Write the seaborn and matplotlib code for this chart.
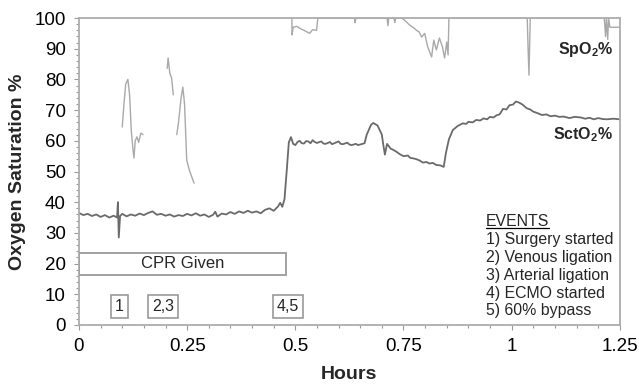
import numpy as np
import pandas as pd
import matplotlib
matplotlib.use("Agg")
import matplotlib.pyplot as plt
import seaborn as sns
from matplotlib.patches import Rectangle

# ---------------- data ----------------
sct_t = [0.00, 0.01, 0.02, 0.03, 0.04, 0.05, 0.06, 0.07, 0.08, 0.088, 0.09, 0.092, 0.095,
         0.10, 0.11, 0.12, 0.13, 0.14, 0.15, 0.16, 0.17, 0.18, 0.19, 0.20, 0.21, 0.22, 0.23,
         0.24, 0.25, 0.26, 0.27, 0.28, 0.29, 0.30, 0.31, 0.315, 0.32, 0.33, 0.34, 0.35, 0.36,
         0.37, 0.38, 0.39, 0.40, 0.41, 0.42, 0.43, 0.44, 0.45, 0.46, 0.465, 0.47, 0.475, 0.48,
         0.485, 0.49, 0.495, 0.50, 0.505, 0.51, 0.515, 0.52, 0.525, 0.53, 0.535, 0.54, 0.545,
         0.55, 0.56, 0.565, 0.57, 0.58, 0.585, 0.59, 0.60, 0.605, 0.61, 0.62, 0.625, 0.63,
         0.64, 0.645, 0.65, 0.66, 0.665, 0.675, 0.68, 0.69, 0.695, 0.70, 0.703,
         0.707, 0.712, 0.72, 0.727, 0.734, 0.742, 0.75, 0.76, 0.766, 0.772, 0.78, 0.787,
         0.795, 0.803, 0.81, 0.818, 0.826, 0.835, 0.843,
         0.848, 0.855, 0.864, 0.875, 0.887, 0.895, 0.90, 0.91, 0.918, 0.927, 0.935, 0.943,
         0.95, 0.958, 0.965, 0.972, 0.98, 0.988, 0.995,
         1.003, 1.01, 1.018, 1.025, 1.035, 1.043, 1.05, 1.06, 1.07, 1.08, 1.09, 1.10, 1.11,
         1.12, 1.134, 1.145, 1.16, 1.17, 1.18, 1.19, 1.20, 1.21, 1.22, 1.235, 1.25]
sct_v = [36.5, 35.8, 36.2, 35.5, 36.0, 35.2, 35.8, 35.0, 35.6, 35.0, 40.0, 28.5, 35.5,
         36.2, 35.4, 36.0, 35.6, 36.3, 35.8, 36.5, 37.0, 35.9, 36.2, 35.6, 36.0, 35.3, 35.8,
         35.5, 36.2, 35.7, 36.4, 35.6, 36.0, 35.2, 35.9, 36.9, 35.3, 36.3, 36.0, 36.8, 36.2,
         37.0, 36.5, 37.2, 36.6, 37.0, 36.4, 37.5, 38.0, 37.2, 38.6, 39.8, 38.5, 41.0, 50.0,
         59.5, 61.2, 59.0, 58.6, 59.6, 60.0, 59.2, 59.1, 59.9, 59.8, 59.2, 60.2, 59.6,
         59.3, 59.8, 59.1, 59.0, 59.6, 58.9, 59.2, 59.8, 59.0, 58.9, 59.4, 58.8, 58.6,
         59.0, 58.6, 58.8, 59.2, 62.0, 65.2, 65.8, 65.0, 63.5, 62.0, 59.0,
         55.5, 59.0, 57.5, 57.0, 56.4, 55.6, 55.0, 55.2, 54.4, 54.3, 54.0, 53.6,
         52.9, 53.1, 52.6, 52.8, 52.1, 52.0, 51.5,
         56.0, 60.5, 63.5, 64.8, 65.7, 65.5, 66.2, 66.0, 66.8, 66.6, 67.3, 67.0,
         67.8, 67.6, 68.3, 68.6, 70.4, 70.2, 71.6,
         71.8, 72.8, 72.4, 71.8, 70.6, 70.2, 69.5, 69.0, 68.4, 68.6, 68.0, 68.2, 67.8,
         67.9, 67.4, 67.8, 67.6, 67.2, 67.5, 67.0, 67.4, 67.1, 67.0, 67.2, 67.0]

# SpO2 recorded in separate segments (gaps where the signal was lost)
spo_seg1_t = [0.100, 0.104, 0.108, 0.113, 0.117, 0.121, 0.125, 0.127, 0.130, 0.134, 0.138, 0.143, 0.148]
spo_seg1_v = [64.5, 72.0, 78.5, 80.0, 75.0, 63.0, 57.0, 54.4, 60.0, 61.3, 59.5, 62.5, 62.0]
spo_seg2_t = [0.204, 0.206, 0.210, 0.214, 0.218]
spo_seg2_v = [83.6, 87.0, 82.0, 80.5, 75.0]
spo_seg3_t = [0.226, 0.230, 0.236, 0.240, 0.244, 0.249, 0.255, 0.260, 0.266]
spo_seg3_v = [62.0, 66.0, 74.0, 77.5, 72.0, 53.7, 50.5, 48.5, 46.2]
spo_seg4_t = [0.492, 0.4925, 0.495, 0.503, 0.512, 0.520, 0.528, 0.533, 0.540, 0.549, 0.552,
              0.600, 0.637, 0.638, 0.640, 0.712, 0.714, 0.716, 0.728, 0.730, 0.732, 0.746,
              0.755, 0.764, 0.772, 0.780, 0.786, 0.792, 0.799, 0.806, 0.815, 0.820, 0.826,
              0.833, 0.840, 0.845, 0.850, 0.853, 0.855, 0.900, 1.036, 1.038, 1.040, 1.043,
              1.100, 1.214, 1.217, 1.219, 1.222, 1.224, 1.227, 1.25]
spo_seg4_v = [100.0, 94.5, 97.0, 97.3, 96.5, 96.0, 95.4, 95.0, 96.2, 96.0, 100.0,
              100.0, 100.0, 98.5, 100.0, 100.0, 97.5, 100.0, 100.0, 98.5, 100.0, 100.0,
              99.0, 97.7, 97.0, 96.0, 95.5, 93.8, 95.0, 90.6, 87.3, 92.8, 89.6,
              93.5, 90.6, 87.0, 92.2, 88.0, 100.0, 100.0, 100.0, 90.0, 81.4, 100.0,
              100.0, 100.0, 94.0, 100.0, 93.0, 100.0, 97.0, 97.0]

cpr_span = (0.0, 0.478)
cpr_label = "CPR Given"
event_x = [0.093, 0.195, 0.483]
event_labels = ["1", "2,3", "4,5"]
legend_lines = ["1) Surgery started", "2) Venous ligation", "3) Arterial ligation",
                "4) ECMO started", "5) 60% bypass"]

# ---------------- frames ----------------
sct_df = pd.DataFrame({"Hours": sct_t, "Sat": sct_v})
segs = []
for i, (t, v) in enumerate([(spo_seg1_t, spo_seg1_v), (spo_seg2_t, spo_seg2_v),
                            (spo_seg3_t, spo_seg3_v), (spo_seg4_t, spo_seg4_v)]):
    segs.append(pd.DataFrame({"Hours": t, "Sat": v, "seg": i}))
spo_df = pd.concat(segs, ignore_index=True)

# ---------------- style ----------------
sns.set_style("white")
plt.rcParams["font.family"] = ["Liberation Sans", "DejaVu Sans"]
plt.rcParams["mathtext.fontset"] = "custom"
plt.rcParams["mathtext.rm"] = "Liberation Sans"
plt.rcParams["mathtext.bf"] = "Liberation Sans:bold"

fig = plt.figure(figsize=(6.39, 3.92), dpi=100)
ax = fig.add_axes([0.1236, 0.171, 0.970 - 0.1236, 0.954 - 0.171])

sns.lineplot(data=spo_df, x="Hours", y="Sat", units="seg", estimator=None,
             color="#a9a9a9", lw=1.0, ax=ax)
sns.lineplot(data=sct_df, x="Hours", y="Sat", estimator=None,
             color="#6a6a6a", lw=1.3, ax=ax)

ax.set_xlim(0, 1.25)
ax.set_ylim(0, 100)
ax.set_xticks([0, 0.25, 0.5, 0.75, 1.0, 1.25])
ax.set_xticklabels(["0", "0.25", "0.5", "0.75", "1", "1.25"])
ax.set_xticks(np.arange(0, 1.2501, 0.05), minor=True)
ax.set_yticks(np.arange(0, 101, 10))
ax.set_yticks(np.arange(0, 101, 2), minor=True)

spine_c = "#adadad"
for s in ax.spines.values():
    s.set_color(spine_c)
    s.set_linewidth(1.3)
ax.tick_params(which="both", direction="out", color="#9a9a9a", width=0.8)
ax.tick_params(which="major", length=3.5, labelsize=13.5, pad=6, labelcolor="black")
ax.tick_params(which="minor", length=2.5)
ax.tick_params(axis="x", bottom=True, which="both")
ax.tick_params(axis="y", left=True, which="both")

ax.set_xlabel("Hours", fontsize=14, fontweight="bold", labelpad=8)
ax.set_ylabel("Oxygen Saturation %", fontsize=14, fontweight="bold", labelpad=6)

# CPR bar
ax.add_patch(Rectangle((cpr_span[0], 16.3), cpr_span[1] - cpr_span[0], 7.2,
                       facecolor="white", edgecolor="#9a9a9a", lw=1.3, zorder=3))
ax.text((cpr_span[0] + cpr_span[1]) / 2, 19.9, cpr_label, ha="center", va="center",
        fontsize=12, zorder=4)

# event markers
for x, lab in zip(event_x, event_labels):
    ax.text(x, 5.9, lab, ha="center", va="center", fontsize=11.5, zorder=4,
            bbox=dict(boxstyle="square,pad=0.25", facecolor="white",
                      edgecolor="#9a9a9a", lw=1.2))

# series labels
ax.text(1.106, 89.6, r"SpO$_{\mathbf{2}}$%", fontsize=11.5, fontweight="bold",
        ha="left", va="center")
ax.text(1.095, 61.9, r"SctO$_{\mathbf{2}}$%", fontsize=11.5, fontweight="bold",
        ha="left", va="center")

# events legend
ev = ax.text(0.940, 33.6, "EVENTS", fontsize=11.4, ha="left", va="center")
ys = [27.7, 21.9, 16.0, 10.3, 4.6]
for y, line in zip(ys, legend_lines):
    ax.text(0.940, y, line, fontsize=11.4, ha="left", va="center")

fig.canvas.draw()
bb = ev.get_window_extent().transformed(ax.transData.inverted())
ax.plot([bb.x0, bb.x1], [bb.y0 + 0.3, bb.y0 + 0.3], color="black", lw=0.9)

fig.savefig("out.png", dpi=100, facecolor="white")
